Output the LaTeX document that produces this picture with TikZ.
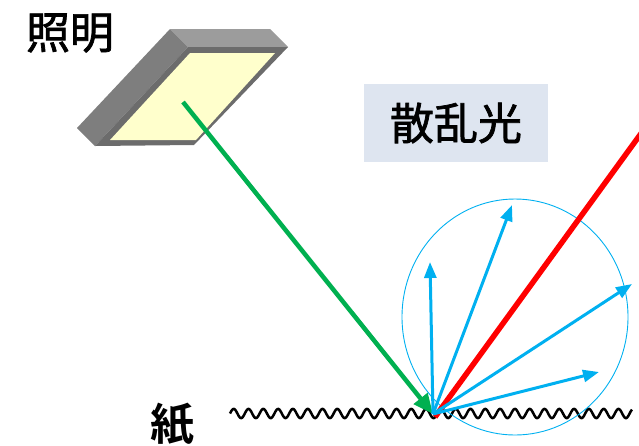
\documentclass[tikz,border=0pt]{standalone}
\usepackage{fontspec}
\newfontfamily\jpfont[RawFeature={embolden=1.6}]{Noto Sans CJK JP}
\newfontfamily\jpbold{Noto Sans CJK JP Bold}
\usetikzlibrary{arrows.meta}
\definecolor{scatblue}{HTML}{00B0F0}
\definecolor{incgreen}{HTML}{00B050}
\definecolor{specred}{HTML}{FF0000}
\definecolor{lampyellow}{HTML}{FFFFCC}
\definecolor{lamptop}{HTML}{9C9C9C}
\definecolor{lampside}{HTML}{7E7E7E}
\definecolor{lampframe}{HTML}{6C6C6C}
\definecolor{labelbg}{HTML}{DEE5F0}
\tikzset{
  label/.style={font=\jpfont\fontsize{44}{44}\selectfont, inner sep=0pt},
  scatter/.style={draw=scatblue, line width=3pt,
    -{Triangle[length=16pt,width=12pt]}},
}
\begin{document}
\begin{tikzpicture}[x=1pt,y=-1pt]
\useasboundingbox (0,0) rectangle (639,445);
\clip (0,0) rectangle (639,445);

% lamp: a slanted flat box
\fill[lamptop]  (188,47) -- (288,47) -- (270,29) -- (170,29) -- cycle;
\fill[lampside] (95,146) -- (188,47) -- (170,29) -- (77,128) -- cycle;
\fill[lampframe] (95,146) -- (194,145) -- (288,47) -- (188,47) -- cycle;
\fill[lampyellow] (110,140) -- (196,140) -- (275,53) -- (190,53) -- cycle;

% labels
\node[label] (illum) at (70,33) {照明};
\node[label, fill=labelbg, minimum width=184pt, minimum height=78pt]
  (scat) at (456,123) {散乱光};
\node[label, font=\jpbold\fontsize{44}{44}\selectfont] (paper) at (172,424) {紙};

% rough paper surface (period 14.8)
\draw[line width=2.5pt, black] plot[domain=0:402, samples=500, smooth]
  ({230+\x}, {413.5-4.6*sin(\x*24.3243)});

% key points
\coordinate (O) at (433,414);
\coordinate (src) at (183,102);
\coordinate (spec) at (645,128);
\coordinate (s1) at (430,262);
\coordinate (s2) at (512,205);
\coordinate (s3) at (632,284);
\coordinate (s4) at (599,372);

% scattering envelope
\draw[scatblue, line width=0.9pt] (515,317) ellipse [x radius=113pt, y radius=118pt];

% incident and specular rays
\draw[incgreen, line width=4.5pt, -{Triangle[length=20pt,width=17pt]}] (src) -- (O);
\draw[specred, line width=5.5pt] ([xshift=2pt,yshift=-3pt]O) -- (spec);

% scattered rays
\draw[scatter] (O) -- (s1);
\draw[scatter] (O) -- (s2);
\draw[scatter] (O) -- (s3);
\draw[scatter] (O) -- (s4);
\end{tikzpicture}
\end{document}
